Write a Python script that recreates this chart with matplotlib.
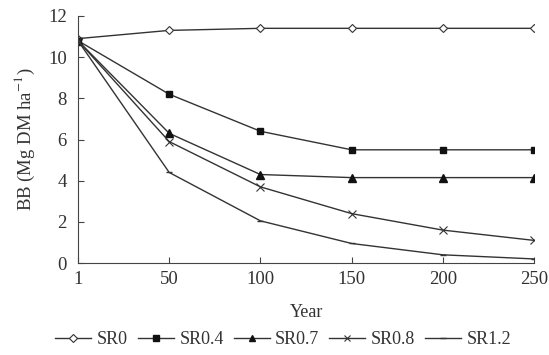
import matplotlib
matplotlib.use("Agg")
import matplotlib.pyplot as plt
import numpy as np

years = ['1', '50', '100', '150', '200', '250']
sr0 = [10.9, 11.3, 11.4, 11.4, 11.4, 11.4]
sr04 = [10.8, 8.2, 6.4, 5.5, 5.5, 5.5]
sr07 = [10.8, 6.3, 4.3, 4.15, 4.15, 4.15]
sr08 = [10.8, 5.9, 3.7, 2.4, 1.6, 1.1]
sr12 = [10.8, 4.4, 2.05, 0.95, 0.4, 0.2]

plt.rcParams['font.family'] = ['Liberation Serif', 'DejaVu Serif']
plt.rcParams['mathtext.fontset'] = 'stix'
plt.rcParams['font.size'] = 13

fig = plt.figure(figsize=(5.49, 3.55), dpi=100)
ax = fig.add_axes([0.142, 0.259, 0.831, 0.696])

x = np.arange(len(years))
lc = '#333333'
ax.plot(x, sr0, color=lc, lw=1, marker='D', ms=4.5, mfc='white', mec=lc, mew=0.8, label='SR0')
ax.plot(x, sr04, color=lc, lw=1, marker='s', ms=5, mfc='#111111', mec='#111111', label='SR0.4')
ax.plot(x, sr07, color=lc, lw=1, marker='^', ms=5.5, mfc='#111111', mec='#111111', label='SR0.7')
ax.plot(x, sr08, color=lc, lw=1, marker='x', ms=6, mec=lc, mew=0.8, label='SR0.8')
ax.plot(x, sr12, color=lc, lw=1, marker='_', ms=5, mec=lc, label='SR1.2')

ax.set_xlim(0, 5)
ax.set_ylim(0, 12)
ax.set_xticks(x)
ax.set_xticklabels(years)
ax.set_yticks(range(0, 13, 2))
ax.tick_params(direction='in', length=4, color='#444444', labelcolor='#333333', labelsize=13.5)
ax.tick_params(axis='y', pad=8)
ax.tick_params(axis='x', pad=6)
ax.spines['top'].set_visible(False)
ax.spines['right'].set_visible(False)
for s in ['left', 'bottom']:
    ax.spines[s].set_color('#444444')

ax.set_xlabel('Year', color='#333333', labelpad=11)
ax.set_ylabel('BB (Mg DM ha$^{-1}$)', color='#333333', labelpad=8, fontsize=13.5)

ax.legend(loc='center', bbox_to_anchor=(0.45, -0.31), ncol=5, frameon=False,
          handlelength=2.0, columnspacing=0.55, handletextpad=0.3, fontsize=13,
          labelcolor='#333333', markerscale=0.8)

fig.savefig('out.png', dpi=100)
